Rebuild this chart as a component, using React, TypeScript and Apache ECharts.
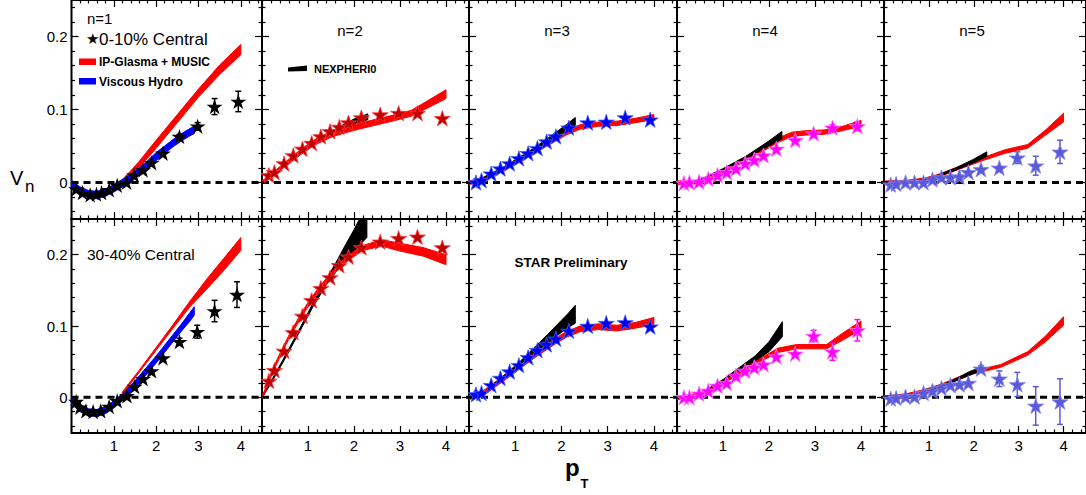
import React, { useEffect, useRef } from "react";
import * as echarts from "echarts";

// ---------- tick values ----------
const xMajorTicks = [0, 1, 2, 3, 4];
const xLabelTicks = [1, 2, 3, 4];
const xMinorTicks = [0.2, 0.4, 0.6, 0.8, 1.2, 1.4, 1.6, 1.8, 2.2, 2.4, 2.6, 2.8, 3.2, 3.4, 3.6, 3.8, 4.2, 4.4];
const yMajorTicks = [0, 0.1, 0.2];
const yMinorTicks = [-0.04, -0.02, 0.02, 0.04, 0.06, 0.08, 0.12, 0.14, 0.16, 0.18, 0.22, 0.24];

// ---------- STAR data (n=1) ----------
const v1Cen_pt = [0.11, 0.26, 0.44, 0.59, 0.71, 0.89, 1.08, 1.3, 1.48, 1.69, 1.89, 2.16, 2.55, 2.98, 3.38, 3.94];
const v1Cen_v = [-0.009, -0.014, -0.017, -0.016, -0.014, -0.01, -0.004, 0.0, 0.01, 0.017, 0.027, 0.04, 0.063, 0.077, 0.104, 0.111];
const v1Cen_err = [0, 0, 0, 0, 0, 0, 0, 0, 0, 0, 0, 0, 0.003, 0.005, 0.011, 0.014];
const v1Mid_pt = [0.11, 0.2, 0.34, 0.51, 0.69, 0.89, 1.08, 1.31, 1.49, 1.69, 1.89, 2.16, 2.55, 2.97, 3.38, 3.91];
const v1Mid_v = [-0.006, -0.014, -0.019, -0.02, -0.019, -0.013, -0.005, 0.002, 0.015, 0.026, 0.037, 0.055, 0.078, 0.092, 0.121, 0.144];
const v1Mid_err = [0, 0, 0, 0, 0, 0, 0, 0, 0, 0, 0, 0, 0.005, 0.009, 0.015, 0.018];

// ---------- STAR data (n=2..5), common pT bins ----------
const ptBins = [0.15, 0.27, 0.48, 0.68, 0.88, 1.08, 1.28, 1.48, 1.68, 1.88, 2.16, 2.57, 2.97, 3.38, 3.92];
const v2Cen_v = [0.01, 0.014, 0.026, 0.037, 0.046, 0.054, 0.063, 0.07, 0.076, 0.082, 0.089, 0.093, 0.095, 0.095, 0.088];
const v2Mid_v = [0.023, 0.038, 0.065, 0.091, 0.114, 0.136, 0.153, 0.168, 0.185, 0.197, 0.21, 0.218, 0.223, 0.225, 0.21];
const v3Cen_v = [0.0, 0.003, 0.012, 0.019, 0.026, 0.033, 0.04, 0.047, 0.056, 0.063, 0.075, 0.082, 0.083, 0.089, 0.086];
const v3Mid_v = [0.004, 0.006, 0.017, 0.027, 0.036, 0.045, 0.056, 0.066, 0.074, 0.082, 0.093, 0.1, 0.104, 0.105, 0.099];
const v4Cen_v = [-0.001, 0.0, 0.001, 0.005, 0.01, 0.014, 0.019, 0.026, 0.031, 0.037, 0.046, 0.058, 0.067, 0.075, 0.077];
const v4Cen_err = [0, 0, 0, 0, 0, 0, 0, 0, 0, 0, 0, 0, 0, 0.004, 0.006];
const v4Mid_v = [0.0, 0.0, 0.005, 0.009, 0.016, 0.02, 0.03, 0.037, 0.042, 0.046, 0.057, 0.061, 0.086, 0.064, 0.094];
const v4Mid_err = [0, 0, 0, 0, 0, 0, 0, 0, 0, 0, 0, 0, 0.008, 0.012, 0.015];
const v5Cen_v = [-0.003, -0.002, 0.0, 0.0, 0.0, 0.004, 0.007, 0.007, 0.008, 0.014, 0.018, 0.02, 0.034, 0.023, 0.042];
const v5Cen_err = [0, 0, 0, 0, 0, 0, 0, 0, 0, 0, 0, 0.002, 0.008, 0.013, 0.016];
const v5Mid_v = [-0.002, -0.001, 0.001, 0.001, 0.006, 0.009, 0.013, 0.017, 0.018, 0.02, 0.04, 0.026, 0.018, -0.012, -0.006];
const v5Mid_err = [0, 0, 0, 0, 0, 0, 0, 0, 0, 0, 0.004, 0.011, 0.017, 0.027, 0.032];
const noErr = [0, 0, 0, 0, 0, 0, 0, 0, 0, 0, 0, 0, 0, 0, 0];

// ---------- IP-Glasma + MUSIC bands ----------
const ipg1Cen_pt = [0, 0.2, 0.4, 0.6, 0.8, 1.0, 1.2, 1.4, 1.6, 2.0, 2.5, 3.0, 3.5, 4.0];
const ipg1Cen_lo = [-0.004, -0.013, -0.019, -0.02, -0.017, -0.011, -0.003, 0.008, 0.02, 0.047, 0.082, 0.117, 0.148, 0.175];
const ipg1Cen_hi = [0.0, -0.009, -0.014, -0.015, -0.012, -0.006, 0.004, 0.016, 0.029, 0.058, 0.093, 0.128, 0.161, 0.189];
const ipg1Mid_pt = [1.2, 1.35, 1.6, 2.0, 2.4, 2.8, 3.2, 3.6, 4.0];
const ipg1Mid_lo = [0.005, 0.016, 0.035, 0.066, 0.097, 0.127, 0.152, 0.178, 0.206];
const ipg1Mid_hi = [0.007, 0.019, 0.038, 0.07, 0.102, 0.135, 0.166, 0.195, 0.224];
const ipg2Cen_pt = [0, 0.3, 0.6, 0.9, 1.2, 1.5, 1.8, 2.1, 2.5, 2.9, 3.25, 3.6, 4.0];
const ipg2Cen_lo = [-0.002, 0.013, 0.028, 0.042, 0.053, 0.062, 0.068, 0.073, 0.079, 0.085, 0.091, 0.102, 0.115];
const ipg2Cen_hi = [0.002, 0.017, 0.033, 0.048, 0.061, 0.07, 0.076, 0.081, 0.087, 0.093, 0.099, 0.112, 0.127];
const ipg2Mid_pt = [0, 0.1, 0.2, 0.4, 0.6, 0.8, 1.0, 1.2, 1.4, 1.6, 1.8, 2.0, 2.2, 2.6, 3.0, 3.5, 4.0];
const ipg2Mid_lo = [-0.002, 0.012, 0.03, 0.058, 0.084, 0.106, 0.127, 0.145, 0.161, 0.176, 0.189, 0.199, 0.206, 0.212, 0.205, 0.198, 0.186];
const ipg2Mid_hi = [0.002, 0.016, 0.035, 0.063, 0.089, 0.112, 0.133, 0.151, 0.167, 0.182, 0.195, 0.205, 0.213, 0.221, 0.216, 0.21, 0.2];
const ipg3Cen_pt = [0, 0.3, 0.6, 0.9, 1.2, 1.5, 1.8, 2.1, 2.4, 2.8, 3.2, 3.6, 4.0];
const ipg3Cen_lo = [-0.003, 0.002, 0.011, 0.021, 0.032, 0.043, 0.054, 0.065, 0.073, 0.077, 0.078, 0.082, 0.086];
const ipg3Cen_hi = [0.002, 0.007, 0.016, 0.027, 0.038, 0.049, 0.06, 0.071, 0.079, 0.083, 0.084, 0.088, 0.093];
const ipg3Mid_pt = [0, 0.3, 0.6, 0.9, 1.2, 1.5, 1.8, 2.1, 2.4, 2.8, 3.2, 3.6, 4.0];
const ipg3Mid_lo = [-0.003, 0.002, 0.016, 0.03, 0.045, 0.059, 0.072, 0.084, 0.092, 0.095, 0.093, 0.097, 0.102];
const ipg3Mid_hi = [0.002, 0.009, 0.023, 0.038, 0.053, 0.067, 0.08, 0.092, 0.1, 0.103, 0.101, 0.105, 0.112];
const ipg4Cen_pt = [0, 0.4, 0.7, 1.0, 1.3, 1.6, 1.9, 2.2, 2.5, 2.8, 3.2, 3.6, 4.0];
const ipg4Cen_lo = [-0.003, -0.002, 0.003, 0.013, 0.023, 0.033, 0.044, 0.055, 0.063, 0.065, 0.066, 0.071, 0.077];
const ipg4Cen_hi = [0.002, 0.003, 0.008, 0.018, 0.029, 0.039, 0.05, 0.061, 0.069, 0.071, 0.072, 0.077, 0.085];
const ipg4Mid_pt = [0, 0.4, 0.7, 1.0, 1.3, 1.6, 1.9, 2.2, 2.6, 3.0, 3.25, 3.6, 4.0];
const ipg4Mid_lo = [-0.003, -0.001, 0.007, 0.019, 0.03, 0.042, 0.053, 0.063, 0.068, 0.068, 0.068, 0.08, 0.095];
const ipg4Mid_hi = [0.002, 0.004, 0.012, 0.024, 0.035, 0.047, 0.058, 0.069, 0.074, 0.074, 0.074, 0.09, 0.107];
const ipg5Cen_pt = [0, 0.5, 0.9, 1.2, 1.5, 1.8, 2.2, 2.7, 3.2, 3.6, 4.0];
const ipg5Cen_lo = [-0.002, -0.001, 0.002, 0.007, 0.014, 0.021, 0.03, 0.04, 0.047, 0.065, 0.083];
const ipg5Cen_hi = [0.002, 0.003, 0.006, 0.011, 0.018, 0.025, 0.034, 0.045, 0.052, 0.072, 0.095];
const ipg5Mid_pt = [0, 0.5, 0.9, 1.3, 1.6, 2.0, 2.6, 3.2, 3.6, 4.0];
const ipg5Mid_lo = [-0.002, 0.001, 0.007, 0.015, 0.023, 0.033, 0.042, 0.059, 0.078, 0.101];
const ipg5Mid_hi = [0.002, 0.005, 0.011, 0.019, 0.027, 0.037, 0.046, 0.064, 0.086, 0.113];

// ---------- Viscous Hydro bands (n=1) ----------
const hyd1Cen_pt = [0, 0.2, 0.4, 0.6, 0.8, 1.0, 1.2, 1.4, 1.6, 1.8, 2.0, 2.2, 2.4, 2.6, 2.8, 2.9];
const hyd1Cen_lo = [-0.007, -0.016, -0.021, -0.022, -0.019, -0.013, -0.006, 0.001, 0.01, 0.02, 0.03, 0.04, 0.049, 0.057, 0.064, 0.067];
const hyd1Cen_hi = [0.003, -0.006, -0.011, -0.012, -0.009, -0.003, 0.004, 0.011, 0.02, 0.03, 0.041, 0.05, 0.059, 0.067, 0.074, 0.077];
const hyd1Mid_pt = [0, 0.2, 0.4, 0.6, 0.8, 1.0, 1.2, 1.4, 1.6, 1.8, 2.0, 2.2, 2.4, 2.6, 2.8, 2.9];
const hyd1Mid_lo = [-0.009, -0.02, -0.026, -0.027, -0.023, -0.015, -0.005, 0.007, 0.02, 0.034, 0.048, 0.063, 0.078, 0.093, 0.107, 0.115];
const hyd1Mid_hi = [0.001, -0.01, -0.016, -0.017, -0.013, -0.005, 0.005, 0.017, 0.03, 0.044, 0.058, 0.073, 0.088, 0.103, 0.119, 0.127];

// ---------- NEXPHERIO bands (n=2..5) ----------
const nex2Cen_pt = [0.05, 0.5, 1.0, 1.5, 2.0, 2.3];
const nex2Cen_lo = [0.0, 0.022, 0.046, 0.065, 0.08, 0.086];
const nex2Cen_hi = [0.003, 0.025, 0.05, 0.07, 0.087, 0.094];
const nex2Mid_pt = [0, 0.2, 0.5, 0.8, 1.1, 1.4, 1.6, 1.8, 2.0, 2.28];
const nex2Mid_lo = [-0.001, 0.02, 0.054, 0.09, 0.126, 0.158, 0.175, 0.19, 0.205, 0.224];
const nex2Mid_hi = [0.001, 0.023, 0.058, 0.094, 0.131, 0.166, 0.188, 0.212, 0.235, 0.27];
const nex3Cen_pt = [0.2, 0.8, 1.4, 1.8, 2.1, 2.3];
const nex3Cen_lo = [0.002, 0.021, 0.044, 0.06, 0.071, 0.078];
const nex3Cen_hi = [0.003, 0.023, 0.047, 0.065, 0.079, 0.089];
const nex3Mid_pt = [0.4, 0.8, 1.1, 1.4, 1.7, 2.0, 2.15, 2.3];
const nex3Mid_lo = [0.01, 0.03, 0.046, 0.062, 0.076, 0.091, 0.098, 0.104];
const nex3Mid_hi = [0.012, 0.033, 0.05, 0.069, 0.088, 0.108, 0.118, 0.129];
const nex4Cen_pt = [0.5, 1.0, 1.5, 2.0, 2.28];
const nex4Cen_lo = [0.003, 0.017, 0.033, 0.05, 0.06];
const nex4Cen_hi = [0.004, 0.019, 0.036, 0.057, 0.07];
const nex4Mid_pt = [0.6, 1.0, 1.4, 1.7, 2.0, 2.29];
const nex4Mid_lo = [0.008, 0.023, 0.04, 0.051, 0.064, 0.085];
const nex4Mid_hi = [0.009, 0.025, 0.044, 0.058, 0.078, 0.106];
const nex5Cen_pt = [0.8, 1.2, 1.6, 2.0, 2.29];
const nex5Cen_lo = [0.002, 0.008, 0.017, 0.027, 0.036];
const nex5Cen_hi = [0.003, 0.01, 0.02, 0.032, 0.042];
const nex5Mid_pt = [0.8, 1.2, 1.6, 1.9, 2.07];
const nex5Mid_lo = [0.006, 0.013, 0.023, 0.031, 0.035];
const nex5Mid_hi = [0.007, 0.015, 0.026, 0.036, 0.04];

// ---------- layout / styles ----------
const FONT = "'Liberation Sans', Arial, Helvetica, sans-serif";
const colLeft = [71.5, 262, 469, 677, 884];
const colWidth = [190.5, 207, 208, 207, 206];
const rowTop = [-0.5, 219];
const rowHeight = [219.5, 214];
const RED = "#ff0000";
const BLUE = "#0000ff";
const BLACK = "#000000";
const STAR =
  "path://M0,-10L2.245,-3.09L9.511,-3.09L3.633,1.18L5.878,8.09L0,3.82L-5.878,8.09L-3.633,1.18L-9.511,-3.09L-2.245,-3.09Z";

type Band = { pt: number[]; lo: number[]; hi: number[]; color: string };
type Panel = {
  pt: number[];
  v: number[];
  err: number[];
  fill: string;
  edge: string;
  bands: Band[];
};

const starStyles = [
  { fill: "#000000", edge: "#000000" },
  { fill: "#c00000", edge: "#ff3838" },
  { fill: "#0000f0", edge: "#4060ff" },
  { fill: "#ff00ff", edge: "#ff70ff" },
  { fill: "#5a5ad8", edge: "#8484ee" },
];

const panels: Panel[] = [
  { pt: v1Cen_pt, v: v1Cen_v, err: v1Cen_err, ...starStyles[0], bands: [
    { pt: ipg1Cen_pt, lo: ipg1Cen_lo, hi: ipg1Cen_hi, color: RED },
    { pt: hyd1Cen_pt, lo: hyd1Cen_lo, hi: hyd1Cen_hi, color: BLUE } ] },
  { pt: ptBins, v: v2Cen_v, err: noErr, ...starStyles[1], bands: [
    { pt: nex2Cen_pt, lo: nex2Cen_lo, hi: nex2Cen_hi, color: BLACK },
    { pt: ipg2Cen_pt, lo: ipg2Cen_lo, hi: ipg2Cen_hi, color: RED } ] },
  { pt: ptBins, v: v3Cen_v, err: noErr, ...starStyles[2], bands: [
    { pt: ipg3Cen_pt, lo: ipg3Cen_lo, hi: ipg3Cen_hi, color: RED },
    { pt: nex3Cen_pt, lo: nex3Cen_lo, hi: nex3Cen_hi, color: BLACK } ] },
  { pt: ptBins, v: v4Cen_v, err: v4Cen_err, ...starStyles[3], bands: [
    { pt: ipg4Cen_pt, lo: ipg4Cen_lo, hi: ipg4Cen_hi, color: RED },
    { pt: nex4Cen_pt, lo: nex4Cen_lo, hi: nex4Cen_hi, color: BLACK } ] },
  { pt: ptBins, v: v5Cen_v, err: v5Cen_err, ...starStyles[4], bands: [
    { pt: ipg5Cen_pt, lo: ipg5Cen_lo, hi: ipg5Cen_hi, color: RED },
    { pt: nex5Cen_pt, lo: nex5Cen_lo, hi: nex5Cen_hi, color: BLACK } ] },
  { pt: v1Mid_pt, v: v1Mid_v, err: v1Mid_err, ...starStyles[0], bands: [
    { pt: ipg1Mid_pt, lo: ipg1Mid_lo, hi: ipg1Mid_hi, color: RED },
    { pt: hyd1Mid_pt, lo: hyd1Mid_lo, hi: hyd1Mid_hi, color: BLUE } ] },
  { pt: ptBins, v: v2Mid_v, err: noErr, ...starStyles[1], bands: [
    { pt: nex2Mid_pt, lo: nex2Mid_lo, hi: nex2Mid_hi, color: BLACK },
    { pt: ipg2Mid_pt, lo: ipg2Mid_lo, hi: ipg2Mid_hi, color: RED } ] },
  { pt: ptBins, v: v3Mid_v, err: noErr, ...starStyles[2], bands: [
    { pt: ipg3Mid_pt, lo: ipg3Mid_lo, hi: ipg3Mid_hi, color: RED },
    { pt: nex3Mid_pt, lo: nex3Mid_lo, hi: nex3Mid_hi, color: BLACK } ] },
  { pt: ptBins, v: v4Mid_v, err: v4Mid_err, ...starStyles[3], bands: [
    { pt: ipg4Mid_pt, lo: ipg4Mid_lo, hi: ipg4Mid_hi, color: RED },
    { pt: nex4Mid_pt, lo: nex4Mid_lo, hi: nex4Mid_hi, color: BLACK } ] },
  { pt: ptBins, v: v5Mid_v, err: v5Mid_err, ...starStyles[4], bands: [
    { pt: ipg5Mid_pt, lo: ipg5Mid_lo, hi: ipg5Mid_hi, color: RED },
    { pt: nex5Mid_pt, lo: nex5Mid_lo, hi: nex5Mid_hi, color: BLACK } ] },
];

function tickAxis(kind: "x" | "y", g: number, position: string, major: boolean, labels: boolean) {
  const isX = kind === "x";
  return {
    gridIndex: g,
    type: "value",
    position,
    min: isX ? 0 : -0.05,
    max: isX ? 4.5 : 0.25,
    axisLine: { show: false, onZero: false },
    splitLine: { show: false },
    axisTick: {
      show: true,
      inside: true,
      length: major ? 7 : 3.5,
      customValues: isX ? (major ? xMajorTicks : xMinorTicks) : major ? yMajorTicks : yMinorTicks,
      lineStyle: { color: "#000", width: 1.2 },
    },
    axisLabel: {
      show: labels,
      customValues: isX ? xLabelTicks : yMajorTicks,
      color: "#000",
      fontSize: 15,
      fontFamily: FONT,
      margin: isX ? 5 : 4,
    },
  };
}

function buildOption() {
  const grid: any[] = [];
  const xAxis: any[] = [];
  const yAxis: any[] = [];
  const series: any[] = [];

  panels.forEach((p, g) => {
    const r = Math.floor(g / 5);
    const c = g % 5;
    grid.push({
      left: colLeft[c],
      top: rowTop[r],
      width: colWidth[c],
      height: rowHeight[r],
      show: true,
      borderColor: "#000",
      borderWidth: 2,
      backgroundColor: "transparent",
      containLabel: false,
    });
    xAxis.push(tickAxis("x", g, "bottom", true, r === 1));
    xAxis.push(tickAxis("x", g, "bottom", false, false));
    xAxis.push(tickAxis("x", g, "top", true, false));
    xAxis.push(tickAxis("x", g, "top", false, false));
    yAxis.push(tickAxis("y", g, "left", true, c === 0));
    yAxis.push(tickAxis("y", g, "left", false, false));
    yAxis.push(tickAxis("y", g, "right", true, false));
    yAxis.push(tickAxis("y", g, "right", false, false));

    const ax = { xAxisIndex: g * 4, yAxisIndex: g * 4 };

    p.bands.forEach((b, bi) => {
      series.push({
        type: "custom",
        ...ax,
        clip: true,
        silent: true,
        z: 2 + bi * 0.1,
        data: b.pt.map((x, i) => [x, b.lo[i], b.hi[i]]),
        encode: { x: 0, y: [1, 2] },
        renderItem: (params: any, api: any) => {
          if (params.dataIndex !== 0) return null;
          const upper = b.pt.map((x, i) => api.coord([x, b.hi[i]]));
          const lower = b.pt.map((x, i) => api.coord([x, b.lo[i]])).reverse();
          return {
            type: "polygon",
            shape: { points: upper.concat(lower) },
            style: { fill: b.color, stroke: b.color, lineWidth: 1 },
          };
        },
      });
    });

    series.push({
      type: "line",
      ...ax,
      silent: true,
      z: 3,
      symbol: "none",
      data: [
        [0, 0],
        [4.5, 0],
      ],
      lineStyle: { color: "#000", width: 3, type: [7, 5] },
    });

    const errData = p.pt
      .map((x, i) => [x, p.v[i], p.err[i]])
      .filter((d) => d[2] > 0);
    series.push({
      type: "custom",
      ...ax,
      silent: true,
      z: 4,
      data: errData,
      encode: { x: 0, y: 1 },
      renderItem: (params: any, api: any) => {
        const x = api.value(0);
        const y = api.value(1);
        const e = api.value(2);
        const t = api.coord([x, y + e]);
        const bt = api.coord([x, y - e]);
        const st = { stroke: p.fill, lineWidth: 1.5 };
        return {
          type: "group",
          children: [
            { type: "line", shape: { x1: t[0], y1: t[1], x2: bt[0], y2: bt[1] }, style: st },
            { type: "line", shape: { x1: t[0] - 3, y1: t[1], x2: t[0] + 3, y2: t[1] }, style: st },
            { type: "line", shape: { x1: bt[0] - 3, y1: bt[1], x2: bt[0] + 3, y2: bt[1] }, style: st },
          ],
        };
      },
    });

    series.push({
      type: "scatter",
      ...ax,
      silent: true,
      z: 5,
      symbol: STAR,
      symbolKeepAspect: true,
      symbolSize: 16,
      data: p.pt.map((x, i) => [x, p.v[i]]),
      itemStyle: { color: p.fill, borderColor: p.edge, borderWidth: c === 0 ? 0 : 0.8, opacity: 1 },
    });
  });

  const txt = (x: number, y: number, text: string, size: number, opts: any = {}) => ({
    type: "text",
    x,
    y,
    z: 100,
    style: {
      text,
      fill: "#000",
      fontSize: size,
      fontFamily: FONT,
      textVerticalAlign: "middle",
      textAlign: "left",
      ...opts,
    },
  });

  const graphic: any[] = [
    txt(10, 178, "V", 20),
    txt(25, 186, "n", 17),
    txt(565, 467.5, "p", 24, { fontWeight: "bold" }),
    txt(580.5, 483.5, "T", 13, { fontWeight: "bold" }),
    txt(87, 18, "n=1", 15),
    txt(86, 39, "★", 15, { fontFamily: "'DejaVu Sans', sans-serif" }),
    txt(99, 39, "0-10% Central", 17),
    { type: "rect", z: 100, shape: { x: 79, y: 58.5, width: 17, height: 6.5 }, style: { fill: RED } },
    txt(99, 62, "IP-Glasma + MUSIC", 12, { fontWeight: "bold" }),
    { type: "rect", z: 100, shape: { x: 79, y: 78, width: 17, height: 6.5 }, style: { fill: BLUE } },
    txt(99, 81.5, "Viscous Hydro", 12, { fontWeight: "bold" }),
    txt(87, 254.5, "30-40% Central", 15.5),
    txt(350, 30, "n=2", 15, { textAlign: "center" }),
    txt(557, 30, "n=3", 15, { textAlign: "center" }),
    txt(765, 30, "n=4", 15, { textAlign: "center" }),
    txt(972, 30, "n=5", 15, { textAlign: "center" }),
    {
      type: "polygon",
      z: 100,
      shape: { points: [[288, 67.5], [307, 65.5], [307, 71], [288, 71.5]] },
      style: { fill: BLACK },
    },
    txt(314, 68.5, "NEXPHERI0", 11, { fontWeight: "bold" }),
    txt(571, 262, "STAR Preliminary", 13.5, { fontWeight: "bold", textAlign: "center" }),
  ];

  return {
    animation: false,
    backgroundColor: "#ffffff",
    grid,
    xAxis,
    yAxis,
    series,
    graphic,
  };
}

export default function App() {
  const ref = useRef<HTMLDivElement>(null);
  useEffect(() => {
    document.body.style.margin = "0";
    if (!ref.current) return;
    const chart = echarts.init(ref.current, undefined, { renderer: "svg" });
    chart.setOption(buildOption() as any);
    return () => chart.dispose();
  }, []);
  return <div ref={ref} style={{ width: 1086, height: 495 }} />;
}
